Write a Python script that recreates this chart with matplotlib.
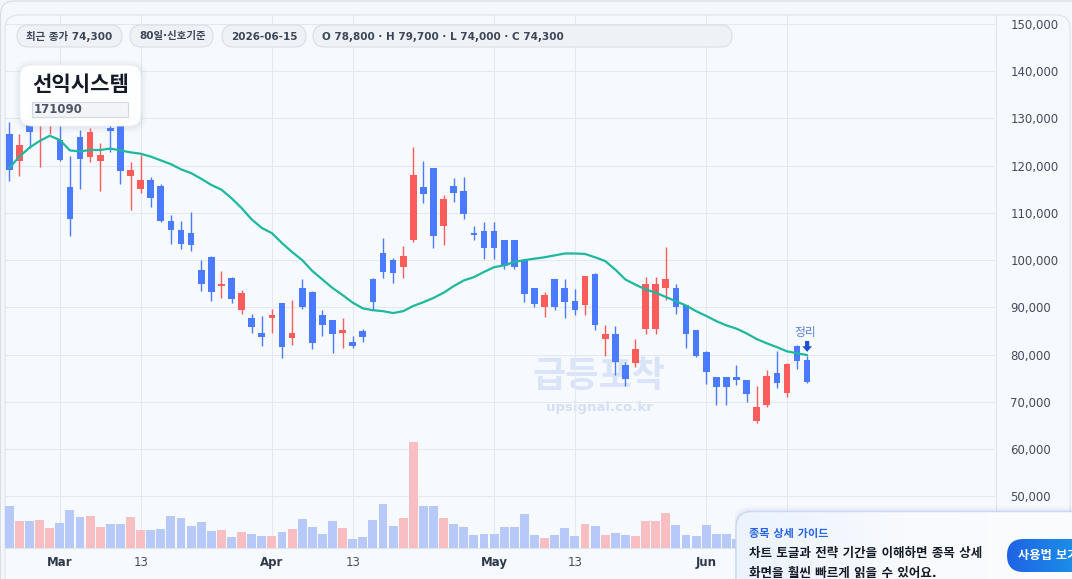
import numpy as np
import pandas as pd
import matplotlib
matplotlib.use('Agg')
import matplotlib.pyplot as plt
from matplotlib.patches import FancyBboxPatch
from matplotlib.lines import Line2D
from matplotlib.transforms import IdentityTransform
from matplotlib.colors import LinearSegmentedColormap

plt.rcParams['font.family'] = ['DejaVu Sans', 'Noto Sans CJK KR']

# ---------------- data ----------------
stock_name = '선익시스템'
stock_code = '171090'
first_date = '2026-02-23'
last_date = '2026-06-15'
holidays = ['2026-03-02']
window_label = '80일·신호기준'
signal_label = '정리'
watermark = '급등포착'
watermark_url = 'upsignal.co.kr'
guide_title = '종목 상세 가이드'
guide_lines = ['차트 토글과 전략 기간을 이해하면 종목 상세', '화면을 훨씬 빠르게 읽을 수 있어요.']
guide_button = '사용법 보기'

opens = [126700, 121000, 129000, 128500, 129000, 125400, 115400, 126000, 121900, 120900,
         128000, 129500, 117700, 114950, 117000, 115700, 108350, 106450, 105800, 98000,
         100750, 94500, 96300, 89450, 87700, 84500, 87700, 90850, 83550, 94200,
         93350, 88300, 87250, 84650, 82600, 84950, 96100, 101550, 100050, 98500,
         104200, 115500, 119500, 107150, 115750, 114700, 105750, 106250, 106250, 104150,
         104150, 100000, 94000, 90050, 95900, 94000, 91250, 90500, 97150, 83300,
         84300, 77750, 78250, 85350, 85400, 94000, 94200, 90500, 85150, 80500,
         75250, 75250, 75250, 74600, 66050, 69350, 76100, 71850, 81750, 78800]
highs = [129200, 126700, 131500, 132000, 133000, 128400, 122100, 127500, 128000, 124700,
         130500, 131000, 120650, 122250, 117600, 116150, 109600, 108350, 110250, 100100,
         100900, 97600, 96400, 93600, 88500, 88100, 89600, 90900, 91500, 96100,
         93400, 89350, 87300, 87700, 83900, 85350, 96150, 104750, 100350, 103050,
         123900, 121000, 119550, 113850, 117400, 117600, 107300, 108150, 108150, 104200,
         104200, 100100, 94050, 93150, 96100, 95900, 93800, 96600, 97200, 86200,
         86000, 78350, 83250, 96350, 96350, 102700, 94900, 90550, 85200, 80700,
         75300, 75300, 77750, 74650, 73400, 76700, 80700, 78200, 82000, 79700]
lows = [116800, 117800, 123700, 119800, 126700, 120900, 105000, 115100, 120650, 114700,
        122800, 116200, 110500, 114100, 111150, 108100, 103350, 102300, 101900, 93450,
        91350, 91900, 90850, 88500, 84500, 81800, 84500, 79250, 82000, 89600,
        81200, 83950, 80350, 81400, 81400, 82700, 89450, 96200, 95150, 96200,
        103800, 112000, 102500, 103150, 112350, 108650, 104200, 100200, 100200, 98100,
        98100, 91150, 90050, 87950, 89450, 87750, 88400, 88400, 85200, 79750,
        75750, 73400, 77400, 84350, 84400, 91500, 88600, 81400, 79400, 73850,
        69400, 69400, 73550, 69950, 65600, 68900, 73000, 71100, 76900, 74000]
closes = [119100, 124400, 127000, 130500, 131000, 121100, 108800, 121300, 127100, 122300,
          127300, 118900, 119100, 117000, 113050, 108200, 106300, 103350, 103150, 95000,
          93250, 95050, 91700, 92950, 85850, 83750, 88300, 81550, 84500, 90000,
          82500, 86250, 84400, 85150, 81850, 83750, 91100, 97450, 97250, 100950,
          118050, 113900, 105050, 113000, 114300, 109700, 105250, 102500, 102550, 98700,
          98500, 92800, 90700, 92550, 90050, 91100, 89450, 96550, 86250, 84300,
          78450, 74900, 81150, 95050, 95050, 95900, 90050, 84400, 79750, 76350,
          73200, 73200, 74650, 71700, 68900, 75450, 73950, 77950, 78600, 74300]
volumes = [625, 400, 400, 415, 295, 370, 565, 460, 475, 310,
           355, 355, 460, 265, 265, 280, 475, 445, 325, 385,
           250, 265, 160, 235, 205, 175, 175, 235, 280, 430,
           310, 205, 400, 295, 130, 160, 415, 655, 325, 445,
           1585, 625, 625, 445, 355, 310, 190, 205, 205, 310,
           310, 505, 190, 145, 190, 295, 175, 355, 325, 190,
           220, 190, 175, 400, 400, 520, 340, 190, 175, 340,
           205, 205, 130, 265, 365, 415, 315, 365, 265, 215]
ma_line = [119500, 121900, 123800, 125200, 126300, 125400, 123200, 123000, 123300, 123300,
           123600, 123200, 122800, 122500, 121900, 121100, 120300, 119200, 118400, 117200,
           115900, 114900, 113100, 111000, 108600, 106800, 105700, 103600, 101700, 100000,
           97700, 95900, 94100, 92600, 91000, 89800, 89400, 89200, 88800, 89200,
           90300, 91100, 92000, 93100, 94500, 95700, 96400, 97500, 98500, 98900,
           99600, 100000, 100300, 100600, 101000, 101400, 101400, 101300, 100600, 99800,
           98000, 95900, 94800, 93800, 93100, 92200, 91300, 90400, 89200, 88200,
           87100, 86200, 85500, 84500, 83300, 82400, 81600, 80700, 80300, 79900]
price_ticks = list(range(50000, 150001, 10000))

# ---------------- styling ----------------
W, H, DPI = 1072, 579, 100
RED, BLUE = '#fa5c5c', '#4a7bff'
VRED, VBLUE = '#f8bec1', '#b6c9f9'
MA_COL = '#1db89d'
GRID = '#e4e9f0'
ID = IdentityTransform()


def Y(y):
    return H - y


fig = plt.figure(figsize=(W / DPI, H / DPI), dpi=DPI, facecolor='#f2f5fa')

# outer container + card
fig.add_artist(FancyBboxPatch((0.5, Y(620)), W + 20, 619, boxstyle='round,pad=0,rounding_size=14',
                              transform=ID, fc='#f4f7fb', ec='#d7dde7', lw=0.8, zorder=-10))
fig.add_artist(FancyBboxPatch((5, Y(640)), 1065, 625, boxstyle='round,pad=0,rounding_size=14',
                              transform=ID, fc='#f6f9fe', ec='#dde3ec', lw=0.8, zorder=-9))
fig.add_artist(Line2D([995.5, 995.5], [Y(15), Y(579)], transform=ID, color='#dde3ec', lw=0.8, zorder=-8))

# ---------------- axes ----------------
dates = pd.bdate_range(first_date, last_date)
dates = dates[~dates.isin(pd.to_datetime(holidays))]
n = len(dates)
x = np.arange(n)
o, h, l, c = map(np.asarray, (opens, highs, lows, closes))
up = c >= o

rect = [5 / W, (H - 548) / H, 990 / W, 533 / H]
ax = fig.add_axes(rect, facecolor='none', zorder=0)
vax = fig.add_axes(rect, facecolor='none', zorder=0.1, sharex=ax)

ax.set_xlim(-0.43, 97.6)
ax.set_ylim(39100, 151850)

ax.set_yticks(price_ticks)
ax.set_yticklabels([f'{v:,}' for v in price_ticks])
ax.yaxis.tick_right()
ax.tick_params(axis='y', length=0, pad=11, labelsize=8.5, labelcolor='#434b5a')

# time ticks: first trading day of each full month and 8 sessions later
ticks, labels, bolds = [], [], []
s = pd.Series(x, index=dates)
for _, grp in s.groupby([dates.year, dates.month]):
    i0 = int(grp.iloc[0])
    if dates[i0].day > 7:
        continue
    ticks.append(i0); labels.append(dates[i0].strftime('%b')); bolds.append(True)
    if i0 + 8 < n and dates[i0 + 8].month == dates[i0].month:
        ticks.append(i0 + 8); labels.append(str(dates[i0 + 8].day)); bolds.append(False)
guide_left = 735
ax.set_xticks(ticks)
ax.set_xticklabels(labels)
ax.tick_params(axis='x', length=0, pad=5.5, labelsize=8.5)
for t, lbl, b in zip(ticks, ax.get_xticklabels(), bolds):
    lbl.set_fontweight('bold' if b else 'normal')
    lbl.set_color('#2f3949' if b else '#454e5d')
    if 9.3 + 10.1 * t > guide_left:
        lbl.set_visible(False)

ax.grid(True, color=GRID, lw=0.8, zorder=0)
ax.set_axisbelow(True)
for sp in ax.spines.values():
    sp.set_visible(False)
ax.spines['bottom'].set_visible(True)
ax.spines['bottom'].set_color('#e1e6ee')
ax.spines['bottom'].set_linewidth(0.8)

# watermark (behind candles)
ax.text(599, Y(377), watermark, transform=ID, ha='center', va='center', fontsize=26,
        fontweight='bold', color='#dae4f8', zorder=0.5)
ax.text(599, Y(407), watermark_url, transform=ID, ha='center', va='center', fontsize=9.5,
        fontweight='bold', color='#d5e0f6', zorder=0.5)

# candles
col = np.where(up, RED, BLUE)
ax.vlines(x, l, h, colors=col, lw=1.0, zorder=2)
ax.bar(x, np.maximum(np.abs(c - o), 250), bottom=np.minimum(o, c), width=0.66, color=col,
       lw=0, zorder=3)
ax.plot(x, ma_line, color=MA_COL, lw=1.6, zorder=4, solid_capstyle='round')

# signal marker
ax.annotate('', xy=(x[-1], ma_line[-1] + 700), xytext=(x[-1], ma_line[-1] + 3000),
            arrowprops=dict(arrowstyle='simple,head_length=0.4,head_width=0.7,tail_width=0.3',
                            color='#1e4fd6', lw=0, shrinkA=0, shrinkB=0), zorder=6)
ax.text(x[-1] - 0.2, ma_line[-1] + 4800, signal_label, ha='center', va='center', fontsize=8.5,
        color='#5b7ed8', zorder=6)

# volume
vol = np.asarray(volumes)
vax.bar(x, vol, width=0.88, color=np.where(up, VRED, VBLUE), lw=0, zorder=1)
vax.set_ylim(0, vol.max() / 0.198)
vax.axis('off')

# ---------------- overlays ----------------
# badges
badges = [f'최근 종가 {closes[-1]:,}', window_label, last_date,
          f'O {opens[-1]:,} · H {highs[-1]:,} · L {lows[-1]:,} · C {closes[-1]:,}']
badge_x = [(17, 122), (130, 213), (222, 306), (313, 732)]
for txt, (x0, x1) in zip(badges, badge_x):
    fig.add_artist(FancyBboxPatch((x0, Y(47)), x1 - x0, 22, boxstyle='round,pad=0,rounding_size=11',
                                  transform=ID, fc='#eef2f7', ec='#d9dfe8', lw=0.8, zorder=8))
    fig.text(x0 + 9, Y(36.5), txt, transform=ID, ha='left', va='center', fontsize=7.5,
             fontweight='bold', color='#3c4656', zorder=9)

# title card with soft shadow
for k, a in [(6, 0.025), (4, 0.035), (2, 0.05)]:
    fig.add_artist(FancyBboxPatch((20 - k, Y(126 + k + 1)), 121 + 2 * k, 61 + 2 * k,
                                  boxstyle=f'round,pad=0,rounding_size={12 + k}', transform=ID,
                                  fc='#6b7a90', ec='none', alpha=a, zorder=8))
fig.add_artist(FancyBboxPatch((20, Y(126)), 121, 61, boxstyle='round,pad=0,rounding_size=12',
                              transform=ID, fc='#fdfeff', ec='#eef1f6', lw=0.6, zorder=9))
fig.text(32, Y(85), stock_name, transform=ID, ha='left', va='center', fontsize=15.2,
         fontweight='bold', color='#151b26', zorder=10)
fig.add_artist(FancyBboxPatch((32, Y(117)), 96, 15, boxstyle='square,pad=0', transform=ID,
                              fc='#f2f4f8', ec='#d2d8e1', lw=0.8, zorder=10))
fig.text(34, Y(109.5), stock_code, transform=ID, ha='left', va='center', fontsize=8.5,
         fontweight='bold', color='#4b5565', zorder=11)

# guide box with gradient
gax = fig.add_axes([guide_left / W, 0, (W - guide_left) / W, (H - 505) / H], zorder=20)
gax.set_xlim(guide_left, W)
gax.set_ylim(H, 505)
gax.axis('off')
gax.patch.set_alpha(0)
for k, a in [(5, 0.03), (3, 0.04), (1.5, 0.05)]:
    gax.add_patch(FancyBboxPatch((736 - k, 511 - k), 400, 100, boxstyle=f'round,pad=0,rounding_size={16 + k}',
                                 fc='#7d8db0', ec='none', alpha=a, zorder=0))
box = FancyBboxPatch((736, 511.5), 400, 100, boxstyle='round,pad=0,rounding_size=16',
                     fc='none', ec='#c9d8f2', lw=1.0, zorder=3)
gax.add_patch(box)
grad = np.linspace(0, 1, 256).reshape(1, -1)
im = gax.imshow(grad, extent=(736, 1072, 612, 511.5), aspect='auto', zorder=1,
                cmap=LinearSegmentedColormap.from_list('gb', ['#ecf3fd', '#f8fafd', '#fbfcfe']))
im.set_clip_path(box)
btn = FancyBboxPatch((1007, 539), 130, 33, boxstyle='round,pad=0,rounding_size=16.5',
                     fc='none', ec='none', zorder=4)
gax.add_patch(btn)
im2 = gax.imshow(grad, extent=(1007, 1110, 572, 539), aspect='auto', zorder=4,
                 cmap=LinearSegmentedColormap.from_list('bb', ['#1f63e4', '#19a6ea']))
im2.set_clip_path(btn)
gax.text(749, 534.5, guide_title, ha='left', va='center', fontsize=8, fontweight='bold',
         color='#2563eb', zorder=5)
gax.text(749, 553.5, guide_lines[0], ha='left', va='center', fontsize=9, fontweight='bold',
         color='#141a24', zorder=5)
gax.text(749, 573, guide_lines[1], ha='left', va='center', fontsize=9, fontweight='bold',
         color='#141a24', zorder=5)
gax.text(1018, 556, guide_button, ha='left', va='center', fontsize=8.8, fontweight='bold',
         color='white', zorder=6)

fig.savefig('out.png', dpi=DPI, facecolor=fig.get_facecolor())
